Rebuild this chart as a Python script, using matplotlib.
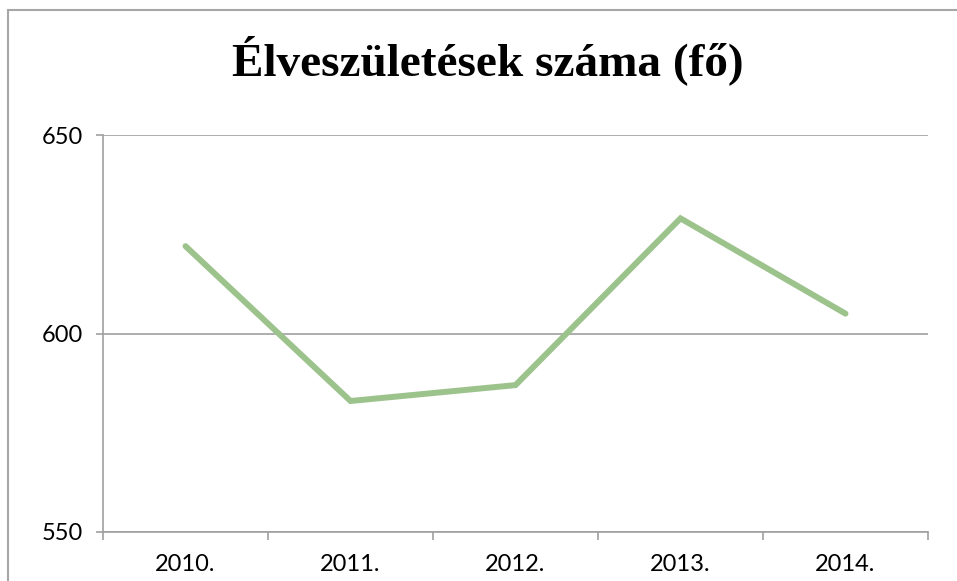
import matplotlib
matplotlib.use("Agg")
import matplotlib.pyplot as plt
from matplotlib.patches import Rectangle

years = ["2010.", "2011.", "2012.", "2013.", "2014."]
births = [622, 583, 587, 629, 605]

W, H = 957, 581
fig = plt.figure(figsize=(W / 100, H / 100), dpi=100)

# outer chart border (cut off at right/bottom like the screenshot)
fig.patches.append(Rectangle((8 / W, -0.1), 1.2, 1 - 10 / H + 0.1,
                             transform=fig.transFigure, fill=False,
                             edgecolor="#a6a6a6", linewidth=1.5))

ax = fig.add_axes([103 / W, (H - 532) / H, 825 / W, 397 / H])
x = list(range(len(years)))
ax.plot(x, births, color="#9dc38d", linewidth=4.3, solid_capstyle="round",
        solid_joinstyle="miter")

ax.set_xlim(-0.5, len(years) - 0.5)
ax.set_ylim(550, 650)
ax.set_yticks([550, 600, 650])
ax.yaxis.grid(True, color="#a0a0a0", linewidth=1.2)
ax.set_axisbelow(True)

ax.set_xticks([i - 0.5 for i in range(len(years) + 1)])
ax.set_xticklabels([])
ax.set_xticks(x, minor=True)
ax.set_xticklabels(years, minor=True)
ax.tick_params(axis="x", which="major", length=6, width=1.2, color="#a0a0a0")
ax.tick_params(axis="x", which="minor", length=0, pad=16)
ax.tick_params(axis="y", length=5, width=1.2, color="#a0a0a0", pad=9.5)

for lab in ax.get_xticklabels(minor=True) + ax.get_yticklabels():
    lab.set_fontfamily("Lato")
    lab.set_fontsize(17)

for s in ["top", "right"]:
    ax.spines[s].set_visible(False)
for s in ["left", "bottom"]:
    ax.spines[s].set_color("#a0a0a0")
    ax.spines[s].set_linewidth(1.2)

fig.text(488 / W, 1 - 75 / H, "Élveszületések száma (fő)", ha="center",
         va="baseline", fontfamily="Liberation Serif", fontweight="bold",
         fontsize=34)

fig.savefig("out.png", dpi=100)
